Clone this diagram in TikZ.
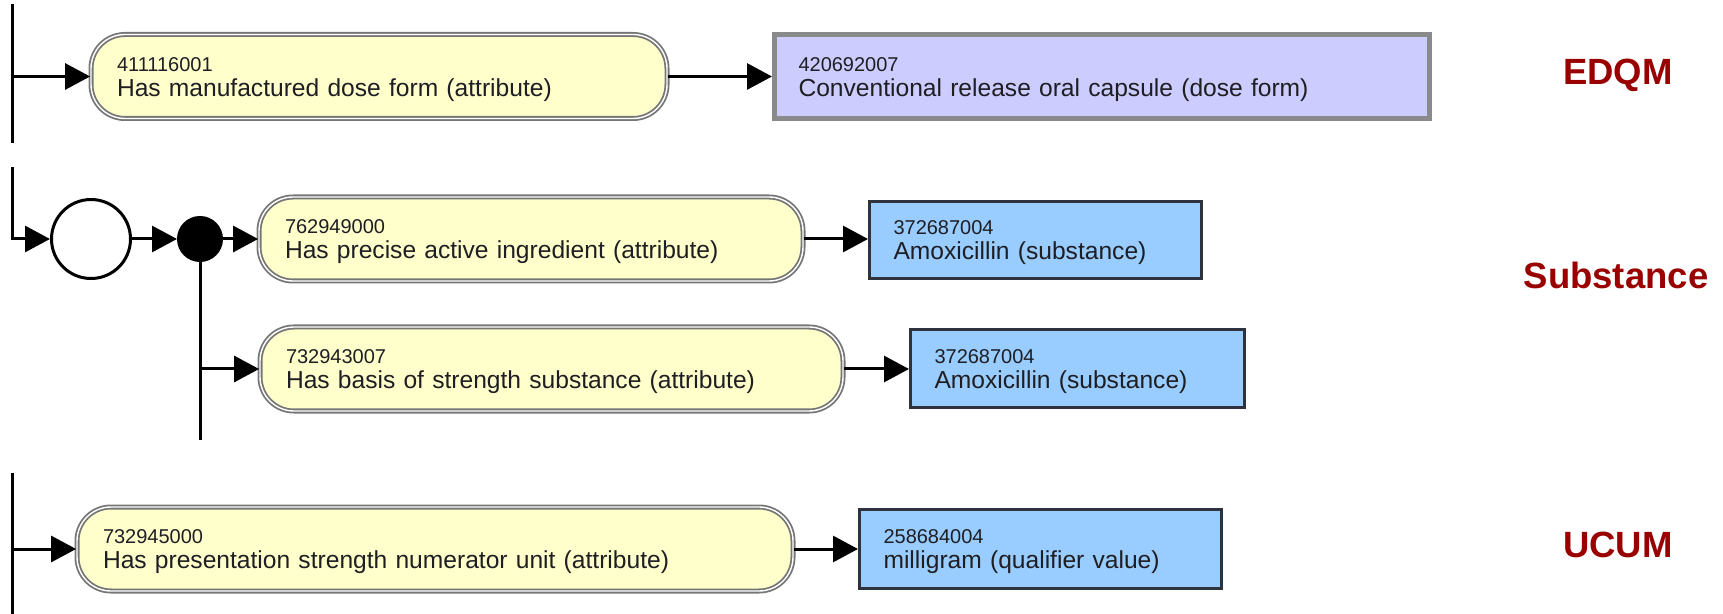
\documentclass[tikz,border=0pt]{standalone}
\usepackage{fontspec}
\setmainfont{Liberation Sans}
\usetikzlibrary{arrows.meta}
\definecolor{pillfill}{RGB}{255,255,204}
\definecolor{pilldraw}{RGB}{118,118,118}
\definecolor{lavfill}{RGB}{204,204,255}
\definecolor{lavdraw}{RGB}{138,138,138}
\definecolor{bluefill}{RGB}{153,204,255}
\definecolor{bluedraw}{RGB}{45,50,60}
\definecolor{labred}{RGB}{153,0,0}
\definecolor{txt}{RGB}{30,30,35}
\newcommand\idfont{\fontsize{10}{12.5}\selectfont\rule{0pt}{9.8pt}}
\begin{document}
\begin{tikzpicture}[x=0.5pt,y=-0.5pt,
  boxtext/.style={font=\fontsize{12.3}{12.5}\selectfont, text=txt, align=left, inner ysep=0pt},
  pill/.style={boxtext, inner xsep=13pt, draw=pilldraw, fill=pillfill, rounded corners=17pt,
    line width=0.9pt, double=white, double distance=0.7pt, minimum height=42pt},
  lavbox/.style={boxtext, inner xsep=12pt, draw=lavdraw, fill=lavfill, line width=2.5pt},
  bluebox/.style={boxtext, inner xsep=12pt, draw=bluedraw, fill=bluefill, line width=1.5pt},
  conn/.style={line width=1.5pt, -{Triangle[length=12.5pt,width=13pt]}},
  plain/.style={line width=1.5pt},
  source/.style={font=\bfseries\fontsize{18.25}{20}\selectfont, text=labred, inner sep=0pt},
  opencirc/.style={circle, draw, fill=white, line width=1.5pt, inner sep=0pt, minimum size=39.5pt},
  dotcirc/.style={circle, draw, fill=black, line width=1pt, inner sep=0pt, minimum size=22pt}]
\useasboundingbox (0,0) rectangle (1723,614);

% ---------- EDQM row ----------
\node[pill, minimum width=288pt, text width=262pt] (p1) at (379,76.5)
  {{\idfont 411116001}\\Has manufactured dose form (attribute)};
\node[lavbox, minimum width=327.5pt, minimum height=42pt, text width=303.5pt] (r1) at (1102,76.5)
  {{\idfont 420692007}\\Conventional release oral capsule (dose form)};
\node[source] (edqm) at (1618,75) {EDQM};
\coordinate (v1top) at (12,4);
\coordinate (v1bot) at (12,143);
\coordinate (v1mid) at (12,76.5);
\draw[plain] (v1top) -- (v1bot);
\draw[conn] (v1mid) -- (p1.west);
\draw[conn] (p1.east) -- (p1.east -| r1.west);

% ---------- Substance row ----------
\node[opencirc] (oc) at (91,239) {};
\node[dotcirc] (dc) at (200,239) {};
\node[pill, minimum width=272pt, text width=246pt] (p2) at (531,239)
  {{\idfont 762949000}\\Has precise active ingredient (attribute)};
\node[bluebox, minimum width=166pt, minimum height=38.5pt, text width=142pt] (r2) at (1035.5,240)
  {{\idfont 372687004}\\Amoxicillin (substance)};
\node[pill, minimum width=291.5pt, text width=265.5pt] (p3) at (551.5,369)
  {{\idfont 732943007}\\Has basis of strength substance (attribute)};
\node[bluebox, minimum width=167pt, minimum height=39pt, text width=143pt] (r3) at (1077.5,368.5)
  {{\idfont 372687004}\\Amoxicillin (substance)};
\node[source] (subst) at (1616,275) {Substance};
\coordinate (v2top) at (12,167);
\coordinate (v3bot) at (200,440);
\coordinate (br) at (200,369);
\draw[conn] (v2top) |- (oc.west);
\draw[conn] (oc.east) -- (dc.west);
\draw[conn] (dc.east) -- (p2.west);
\draw[plain] (dc.center) -- (v3bot);
\draw[conn] (br) -- (p3.west);
\draw[conn] (p2.east) -- (p2.east -| r2.west);
\draw[conn] (p3.east) -- (p3.east -| r3.west);

% ---------- UCUM row ----------
\node[pill, minimum width=358pt, text width=332pt] (p4) at (435,549)
  {{\idfont 732945000}\\Has presentation strength numerator unit (attribute)};
\node[bluebox, minimum width=181pt, minimum height=39.5pt, text width=157pt] (r4) at (1040.5,549)
  {{\idfont 258684004}\\milligram (qualifier value)};
\node[source] (ucum) at (1618,545) {UCUM};
\coordinate (v4top) at (12,473);
\coordinate (v4bot) at (12,614);
\coordinate (v4mid) at (12,549);
\draw[plain] (v4top) -- (v4bot);
\draw[conn] (v4mid) -- (p4.west);
\draw[conn] (p4.east) -- (p4.east -| r4.west);
\end{tikzpicture}
\end{document}
